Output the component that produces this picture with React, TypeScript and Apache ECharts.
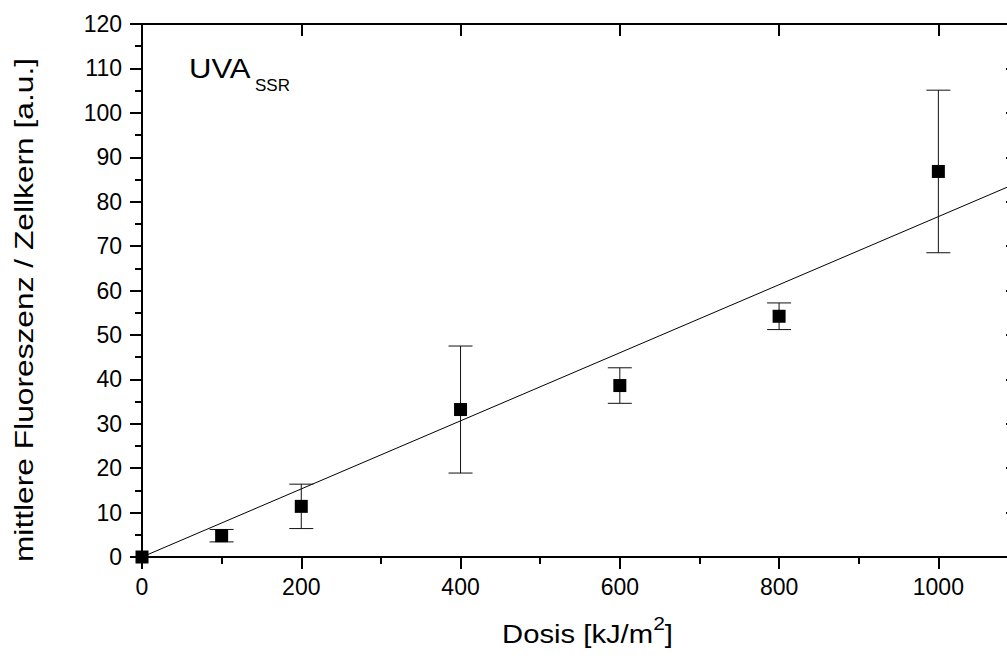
import React, { useEffect, useRef } from 'react';
import * as echarts from 'echarts';

// Measured nuclear fluorescence after UVA (solar simulator) exposure
const doses = [0, 100, 200, 400, 600, 800, 1000];
const meanFluorescence = [0, 4.8, 11.4, 33.2, 38.6, 54.2, 86.8];
const stdDev = [0, 1.4, 5.0, 14.3, 4.0, 3.0, 18.3];

// Linear regression through the origin
const fitDose = [0, 1100];
const fitFluorescence = [0, 84.3];

// Axis ranges
const doseRange = [0, 1100];
const fluorescenceRange = [0, 120];

const FONT = '"Liberation Sans", Arial, Helvetica, sans-serif';

export default function App() {
  const ref = useRef<HTMLDivElement>(null);

  useEffect(() => {
    if (!ref.current) return;
    const chart = echarts.init(ref.current, undefined, { renderer: 'svg' });

    const black = '#000';
    const axisLine = { show: true, onZero: false, lineStyle: { color: black, width: 2 } };
    const tickStyle = { color: black, width: 2 };

    const points = doses.map((d, i) => [d, meanFluorescence[i]]);
    const errorBars = doses
      .map((d, i) => [d, meanFluorescence[i], meanFluorescence[i] - stdDev[i], meanFluorescence[i] + stdDev[i]])
      .filter((_, i) => stdDev[i] > 0);
    const fitLine = fitDose.map((d, i) => [d, fitFluorescence[i]]);

    const xBase = {
      type: 'value' as const,
      min: doseRange[0],
      max: doseRange[1],
      splitLine: { show: false },
    };
    const yBase = {
      type: 'value' as const,
      min: fluorescenceRange[0],
      max: fluorescenceRange[1],
      interval: 10,
      splitLine: { show: false },
    };

    chart.setOption({
      animation: false,
      backgroundColor: '#fff',
      grid: { left: 142, top: 24, right: 22, bottom: 101, containLabel: false },
      xAxis: [
        {
          ...xBase,
          position: 'bottom',
          interval: 200,
          axisLine,
          axisTick: { show: true, length: 12, lineStyle: tickStyle },
          axisLabel: {
            show: true,
            margin: 18,
            fontSize: 23,
            fontFamily: FONT,
            color: black,
            formatter: (v: number) => (v > 1000 ? '' : String(v)),
          },
        },
        {
          ...xBase,
          position: 'bottom',
          interval: 100,
          axisLine: { show: false },
          axisTick: { show: true, length: 7, lineStyle: tickStyle },
          axisLabel: { show: false },
        },
        {
          ...xBase,
          position: 'top',
          interval: 200,
          axisLine,
          axisTick: { show: true, inside: true, length: 12, lineStyle: tickStyle },
          axisLabel: { show: false },
        },
        {
          ...xBase,
          position: 'top',
          interval: 100,
          axisLine: { show: false },
          axisTick: { show: true, inside: true, length: 7, lineStyle: tickStyle },
          axisLabel: { show: false },
        },
      ],
      yAxis: [
        {
          ...yBase,
          position: 'left',
          axisLine,
          axisTick: { show: true, length: 12, lineStyle: tickStyle },
          minorTick: { show: true, splitNumber: 2, length: 7, lineStyle: tickStyle },
          axisLabel: { show: true, margin: 20, fontSize: 23, fontFamily: FONT, color: black },
        },
        {
          ...yBase,
          position: 'right',
          axisLine,
          axisTick: { show: true, inside: true, length: 12, lineStyle: tickStyle },
          minorTick: { show: true, splitNumber: 2, length: 7, lineStyle: tickStyle },
          axisLabel: { show: false },
        },
      ],
      series: [
        {
          type: 'line',
          data: fitLine,
          showSymbol: false,
          symbol: 'none',
          lineStyle: { color: black, width: 1 },
          z: 2,
        },
        {
          type: 'custom',
          data: errorBars,
          encode: { x: 0, y: [2, 3] },
          clip: false,
          z: 3,
          renderItem: (_params: any, api: any) => {
            const x = api.value(0);
            const lo = api.coord([x, api.value(2)]);
            const hi = api.coord([x, api.value(3)]);
            const half = 12;
            const style = { stroke: '#111', lineWidth: 1, fill: 'none' };
            return {
              type: 'group',
              children: [
                { type: 'line', shape: { x1: lo[0], y1: lo[1], x2: hi[0], y2: hi[1] }, style },
                { type: 'line', shape: { x1: lo[0] - half, y1: lo[1], x2: lo[0] + half, y2: lo[1] }, style },
                { type: 'line', shape: { x1: hi[0] - half, y1: hi[1], x2: hi[0] + half, y2: hi[1] }, style },
              ],
            };
          },
        },
        {
          type: 'scatter',
          data: points,
          symbol: 'rect',
          symbolSize: 13,
          clip: false,
          itemStyle: { color: black, opacity: 1 },
          z: 4,
        },
      ],
      graphic: [
        {
          type: 'text',
          x: 24.3,
          y: 310,
          rotation: Math.PI / 2,
          scaleX: 1.22,
          style: {
            text: 'mittlere Fluoreszenz / Zellkern [a.u.]',
            font: `26px ${FONT}`,
            fill: black,
            textAlign: 'center',
            textVerticalAlign: 'middle',
            verticalAlign: 'middle',
          },
        },
        {
          type: 'text',
          x: 587.5,
          y: 653,
          scaleX: 1.17,
          style: {
            text: 'Dosis [kJ/m{sup|2}]',
            font: `25px ${FONT}`,
            fill: black,
            textAlign: 'center',
            textVerticalAlign: 'bottom',
            verticalAlign: 'bottom',
            rich: {
              sup: { font: `18px ${FONT}`, fill: black, padding: [0, 0, 20, 0], verticalAlign: 'bottom' },
            },
          },
        },
        {
          type: 'text',
          x: 189,
          y: 69,
          scaleX: 1.15,
          style: {
            text: 'UVA',
            font: `27px ${FONT}`,
            fill: black,
            textAlign: 'left',
            textVerticalAlign: 'middle',
            verticalAlign: 'middle',
          },
        },
        {
          type: 'text',
          x: 255,
          y: 85.5,
          style: {
            text: 'SSR',
            font: `17px ${FONT}`,
            fill: black,
            textAlign: 'left',
            textVerticalAlign: 'middle',
            verticalAlign: 'middle',
          },
        },
      ],
    });

    return () => chart.dispose();
  }, []);

  return (
    <div
      style={{
        position: 'fixed',
        left: 0,
        top: 0,
        width: 1007,
        height: 658,
        overflow: 'hidden',
        background: '#fff',
      }}
    >
      <div ref={ref} style={{ width: 1040, height: 658 }} />
    </div>
  );
}
